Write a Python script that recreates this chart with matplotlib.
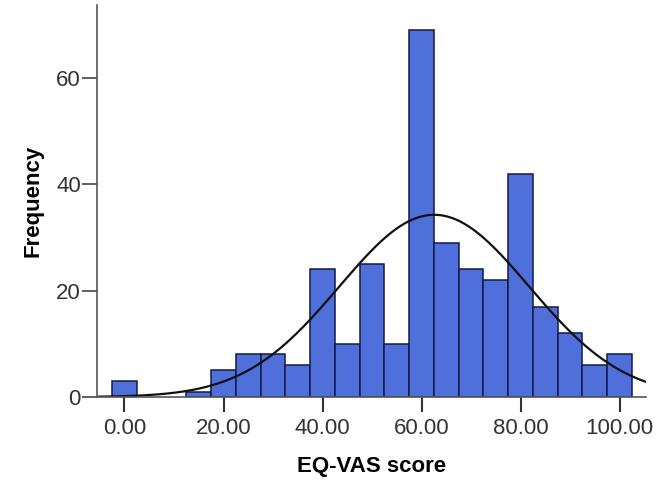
import numpy as np
import matplotlib
matplotlib.use('Agg')
import matplotlib.pyplot as plt

# histogram bins (centres, width 5) and counts
bin_centers = [0, 15, 20, 25, 30, 35, 40, 45, 50, 55, 60, 65, 70, 75, 80, 85, 90, 95, 100]
counts = [3, 1, 5, 8, 8, 6, 24, 10, 25, 10, 69, 29, 24, 22, 42, 17, 12, 6, 8]
bin_width = 5
x_ticks = [0, 20, 40, 60, 80, 100]
y_ticks = [0, 20, 40, 60]

plt.rcParams['font.family'] = ['Liberation Sans', 'DejaVu Sans']

fig = plt.figure(figsize=(6.61, 4.97), dpi=100)
ax = fig.add_axes([0.1467, 0.2012, 0.8303, 0.789])

ax.bar(bin_centers, counts, width=bin_width, color='#4f6fdb',
       edgecolor='#141a45', linewidth=1.1, zorder=2)

# normal curve fitted to the histogram
centers = np.array(bin_centers, dtype=float)
c = np.array(counts, dtype=float)
n = c.sum()
mu = (centers * c).sum() / n
sd = np.sqrt(((centers - mu) ** 2 * c).sum() / (n - 1))
xs = np.linspace(-5.5, 105.3, 400)
ys = n * bin_width / (sd * np.sqrt(2 * np.pi)) * np.exp(-0.5 * ((xs - mu) / sd) ** 2)
ax.plot(xs, ys, color='#111111', linewidth=1.6, zorder=3)

ax.set_xlim(-5.56, 105.3)
ax.set_ylim(0, 73.7)
ax.set_xticks(x_ticks)
ax.set_xticklabels(['%.2f' % t for t in x_ticks])
ax.set_yticks(y_ticks)

for s in ['top', 'right']:
    ax.spines[s].set_visible(False)
for s in ['left', 'bottom']:
    ax.spines[s].set_color('#555555')
    ax.spines[s].set_linewidth(1.2)
    ax.spines[s].set_zorder(4)

ax.tick_params(axis='x', length=11, width=1.5, color='#333333', pad=4,
               labelsize=16, labelcolor='#333333')
ax.tick_params(axis='y', length=11, width=1.2, color='#444444', pad=0.5,
               labelsize=16, labelcolor='#333333')

ax.set_xlabel('EQ-VAS score', fontsize=16, fontweight='bold', labelpad=12)
ax.set_ylabel('Frequency', fontsize=16, fontweight='bold', labelpad=9)

fig.savefig('out.png', dpi=100)
